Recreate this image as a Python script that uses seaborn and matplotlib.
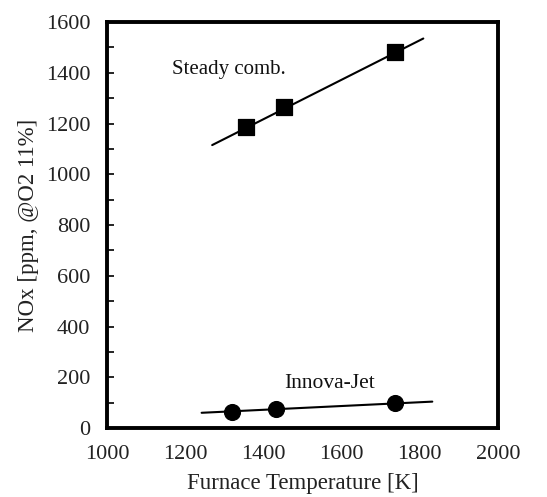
import matplotlib
matplotlib.use("Agg")
import matplotlib.pyplot as plt
import seaborn as sns
import pandas as pd
import numpy as np
from matplotlib.ticker import MultipleLocator

# Data
steady_T = [1355, 1453, 1737]
steady_nox = [1187, 1266, 1480]
steady_fit_T = [1269, 1809]
steady_fit_nox = [1115, 1535]

jet_T = [1320, 1432, 1737]
jet_nox = [64, 74, 97]
jet_fit_T = [1242, 1832]
jet_fit_nox = [60, 104]

x_ticks = [1000, 1200, 1400, 1600, 1800, 2000]
y_ticks = [0, 200, 400, 600, 800, 1000, 1200, 1400, 1600]

sns.set_theme(style="white")
plt.rcParams['font.family'] = ['Liberation Serif', 'DejaVu Serif']

fig = plt.figure(figsize=(5.47, 4.97), dpi=100)
ax = fig.add_axes([0.1956, 0.1388, 0.7148, 0.8169])

sns.lineplot(x=steady_fit_T, y=steady_fit_nox, ax=ax, color='black', lw=1.5)
sns.lineplot(x=jet_fit_T, y=jet_fit_nox, ax=ax, color='black', lw=1.5)
sns.scatterplot(x=steady_T, y=steady_nox, ax=ax, marker='s', s=125, color='black',
                edgecolor='black', zorder=3)
sns.scatterplot(x=jet_T, y=jet_nox, ax=ax, marker='o', s=130, color='black',
                edgecolor='black', zorder=3)

ax.text(1166, 1411, "Steady comb.", fontsize=15, ha='left', va='center', color='#111111')
ax.text(1453, 176, "Innova-Jet", fontsize=15.5, ha='left', va='center', color='#111111')

ax.set_xlim(1000, 2000)
ax.set_ylim(0, 1600)
ax.set_xticks(x_ticks)
ax.set_yticks(y_ticks)
ax.yaxis.set_minor_locator(MultipleLocator(100))
ax.tick_params(axis='both', which='both', direction='in', length=5, width=1.2,
               labelsize=16, colors='black', labelcolor='#222222', pad=12)
ax.tick_params(axis='x', which='both', top=False)
ax.tick_params(axis='y', which='both', left=True, right=False)

for sp in ax.spines.values():
    sp.set_visible(True)
    sp.set_color('black')
    sp.set_linewidth(2.8)

ax.set_xlabel("Furnace Temperature [K]", fontsize=16.5, color='#222222', labelpad=7)
ax.set_ylabel("NOx [ppm, @O2 11%]", fontsize=16.5, color='#222222', labelpad=5)

fig.savefig("out.png", dpi=100, facecolor='white')
